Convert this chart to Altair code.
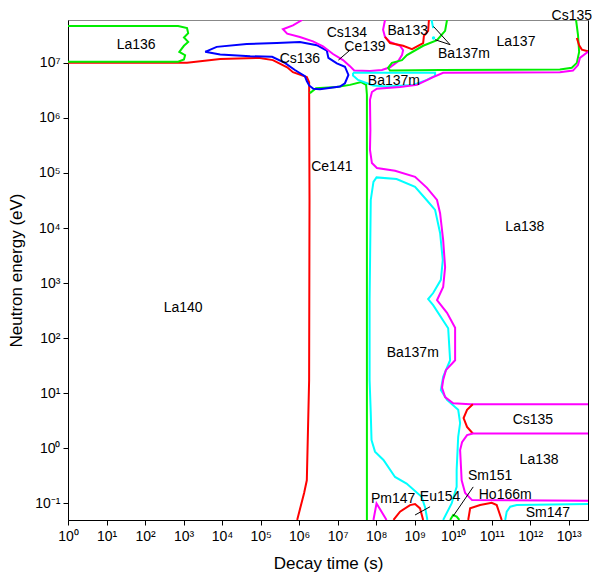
import altair as alt
import pandas as pd

# ---- boundary lines, coordinates are log10(decay time / s) and log10(neutron energy / eV)
la140_x = [0, 3.09, 3.95, 4.98, 5.32, 5.69, 5.84, 6.20, 6.26, 6.27, 6.26, 6.20, 6.13, 5.95]
la140_y = [7.00, 7.00, 7.07, 7.09, 7.05, 6.92, 6.83, 6.74, 6.65, 4.51, 1.24, -0.58, -0.81, -1.30]

la136_x = [0, 2.86, 3.09, 3.12, 3.01, 3.12, 3.01, 2.89, 3.04, 3.01, 2.86, 0]
la136_y = [7.67, 7.67, 7.63, 7.54, 7.46, 7.38, 7.31, 7.20, 7.14, 7.06, 7.02, 7.02]

cs136_x = [3.56, 3.86, 4.64, 5.42, 6.02, 6.46, 6.72, 6.76, 6.98, 7.19, 7.28, 7.19, 7.06, 6.54,
           6.37, 6.26, 6.20, 6.15, 5.89, 5.63, 5.30, 4.73, 3.95, 3.56]
cs136_y = [7.20, 7.29, 7.34, 7.36, 7.38, 7.32, 7.22, 7.09, 6.99, 6.93, 6.78, 6.63, 6.57, 6.52,
           6.53, 6.59, 6.67, 6.76, 6.87, 7.00, 7.11, 7.12, 7.15, 7.20]

cs134_x = [6.08, 5.84, 5.58, 5.69, 6.02, 6.36, 6.62, 6.88, 7.14, 7.32, 7.43, 7.84, 8.15, 8.36,
           8.57, 8.67, 8.70, 8.62, 8.36, 8.23, 8.18, 8.23]
cs134_y = [7.778, 7.68, 7.61, 7.53, 7.47, 7.39, 7.30, 7.16, 7.05, 6.94, 6.86, 6.85, 6.87, 6.92,
           7.03, 7.14, 7.23, 7.31, 7.38, 7.47, 7.60, 7.778]

ba133_x = [8.23, 8.36, 8.70, 8.93, 9.22, 9.24, 9.35, 9.37]
ba133_y = [7.47, 7.36, 7.31, 7.25, 7.36, 7.49, 7.58, 7.778]

la137_x = [9.84, 9.79, 9.58, 9.22, 8.80, 8.67, 8.41, 8.31, 8.36, 9.66, 12.77, 13.08, 13.21,
           13.27, 13.24, 13.19]
la137_y = [7.778, 7.58, 7.41, 7.31, 7.14, 7.05, 7.00, 6.91, 6.86, 6.87, 6.88, 6.91, 7.00,
           7.20, 7.51, 7.778]

la138_x = [13.5, 13.29, 13.24, 13.11, 12.77, 9.74, 9.48, 9.06, 8.62, 8.02, 7.89, 7.84, 7.85,
           7.84, 7.89, 8.02, 8.49, 9.01, 9.32, 9.58, 9.66, 9.74, 9.79, 9.74, 9.58, 9.84, 10.05,
           10.05, 9.81, 9.74, 9.71, 9.79, 10.00, 10.44, 13.5]
la138_y = [7.20, 7.09, 6.96, 6.86, 6.83, 6.82, 6.74, 6.60, 6.56, 6.53, 6.47, 6.33, 5.78,
           5.42, 5.18, 5.09, 5.04, 4.93, 4.73, 4.51, 4.27, 3.78, 3.29, 2.93, 2.69, 2.46, 2.19,
           1.60, 1.42, 1.24, 1.10, 0.93, 0.82, 0.80, 0.80]

la138b_x = [13.5, 10.51, 10.36, 10.23, 10.18, 10.22, 10.31, 10.49, 13.5]
la138b_y = [0.27, 0.27, 0.24, 0.11, -0.03, -0.58, -0.81, -0.94, -0.95]

cs135_x = [10.51, 10.36, 10.27, 10.36, 10.51]
cs135_y = [0.80, 0.70, 0.55, 0.39, 0.27]

cs135top_x = [13.21, 13.27, 13.34, 13.5]
cs135top_y = [7.45, 7.32, 7.24, 7.21]

ba137m_x = [9.33, 9.27, 9.18, 8.79, 8.49, 8.19, 7.97, 7.88, 7.86, 7.83, 7.83, 7.86, 7.93, 8.01,
            8.53, 9.01, 9.31, 9.53, 9.66, 9.73, 9.68, 9.48, 9.35, 9.48, 9.87, 9.92, 9.74, 9.68,
            9.84, 10.13, 10.18, 10.13, 10.09, 10.09, 9.96, 9.74]
ba137m_y = [-1.30, -1.07, -0.88, -0.64, -0.52, -0.21, -0.06, 0.15, 0.64, 1.24, 2.69, 4.51,
            4.84, 4.92, 4.89, 4.75, 4.51, 4.33, 3.91, 3.42, 3.06, 2.82, 2.71, 2.60, 2.18, 1.60,
            1.30, 1.06, 0.88, 0.70, 0.46, 0.21, -0.39, -0.70, -1.00, -1.30]

ba137m2_x = [7.40, 9.53, 9.53, 9.32, 8.96, 8.28, 7.92, 7.53, 7.40, 7.40]
ba137m2_y = [6.82, 6.82, 6.77, 6.69, 6.60, 6.57, 6.59, 6.69, 6.77, 6.82]

ba137m3_x = [9.44, 9.48]
ba137m3_y = [7.778, 7.63]

ce141_x = [6.28, 6.44, 6.98, 7.32, 7.61, 7.74, 7.76, 7.76]
ce141_y = [6.45, 6.54, 6.56, 6.60, 6.65, 6.60, 6.42, -1.30]

sm147_x = [11.35, 11.39, 11.48, 11.65, 13.5]
sm147_y = [-1.30, -1.15, -1.06, -1.03, -1.01]

ho166m_x = [10.39, 10.44, 10.70, 11.00, 11.13, 11.26]
ho166m_y = [-1.30, -1.09, -1.03, -0.99, -1.03, -1.30]

sm151_x = [9.92, 10.00, 10.09, 10.16]
sm151_y = [-1.30, -1.21, -1.24, -1.30]

eu154_x = [8.45, 8.62, 8.88, 9.01, 9.14, 9.22]
eu154_y = [-1.30, -1.15, -1.03, -1.01, -1.09, -1.30]

pm147_x = [7.93, 8.01, 8.27]
pm147_y = [-1.30, -1.00, -1.30]

RED, GREEN, BLUE, CYAN, MAGENTA = "#ff0000", "#00ee00", "#0000ff", "#00ffff", "#ff00ff"

lines = [
    ("la140", RED, la140_x, la140_y),
    ("la136", GREEN, la136_x, la136_y),
    ("ce141", GREEN, ce141_x, ce141_y),
    ("cs136", BLUE, cs136_x, cs136_y),
    ("cs134", MAGENTA, cs134_x, cs134_y),
    ("ba133", RED, ba133_x, ba133_y),
    ("ba137m2", CYAN, ba137m2_x, ba137m2_y),
    ("ba137m3", CYAN, ba137m3_x, ba137m3_y),
    ("la137", GREEN, la137_x, la137_y),
    ("cs135top", RED, cs135top_x, cs135top_y),
    ("ba137m", CYAN, ba137m_x, ba137m_y),
    ("la138", MAGENTA, la138_x, la138_y),
    ("cs135", RED, cs135_x, cs135_y),
    ("la138b", MAGENTA, la138b_x, la138b_y),
    ("sm147", CYAN, sm147_x, sm147_y),
    ("ho166m", RED, ho166m_x, ho166m_y),
    ("sm151", GREEN, sm151_x, sm151_y),
    ("eu154", RED, eu154_x, eu154_y),
    ("pm147", MAGENTA, pm147_x, pm147_y),
]

# leader lines
leaders = [
    ("ce139", [7.32, 7.02], [7.23, 7.05]),
    ("ba137a", [9.49, 9.92], [7.66, 7.33]),
    ("ba137b", [9.53, 9.92], [7.42, 7.33]),
    ("eu154", [9.40, 9.01], [-1.06, -1.21]),
    ("sm151", [10.52, 10.00], [-0.70, -1.23]),
]

dot_x = [9.49]
dot_y = [7.45]

label_text = ["La136", "Cs134", "Ba133", "Ce139", "Cs136", "Ba137m", "La137", "Cs135",
              "Ba137m", "Ce141", "La138", "La140", "Ba137m", "Cs135", "La138", "Sm151",
              "Pm147", "Eu154", "Ho166m", "Sm147"]
label_x = [1.77, 7.24, 8.82, 7.71, 6.02, 10.28, 11.63, 13.08, 8.46, 6.85, 11.86, 2.99, 8.95,
           12.07, 12.23, 10.96, 8.44, 9.66, 11.35, 12.46]
label_y = [7.32, 7.55, 7.58, 7.29, 7.07, 7.16, 7.37, 7.85, 6.67, 5.10, 4.02, 2.55, 1.73,
           0.51, -0.21, -0.51, -0.92, -0.88, -0.85, -1.18]

x_ticks = list(range(0, 14))
y_ticks = list(range(-1, 8))

rows = []
for name, col, xs_, ys_ in lines:
    for i, (a, b) in enumerate(zip(xs_, ys_)):
        rows.append({"seg": name, "col": col, "ord": i, "lx": a, "ly": b})
df_lines = pd.DataFrame(rows)

lrows = []
for name, xs_, ys_ in leaders:
    for i, (a, b) in enumerate(zip(xs_, ys_)):
        lrows.append({"seg": name, "ord": i, "lx": a, "ly": b})
df_lead = pd.DataFrame(lrows)

df_lab = pd.DataFrame({"t": label_text, "lx": label_x, "ly": label_y})
df_dot = pd.DataFrame({"lx": dot_x, "ly": dot_y})

SUP = {"0": "⁰", "1": "¹", "2": "²", "3": "³", "4": "⁴", "5": "⁵", "6": "⁶",
       "7": "⁷", "8": "⁸", "9": "⁹", "-": "⁻"}


def sup_label(n):
    return "10" + "".join(SUP[c] for c in str(n))


x_labels = [sup_label(v) for v in x_ticks]
y_labels = [sup_label(v) for v in y_ticks]
x_expr = "[" + ",".join("'" + s + "'" for s in x_labels) + "][round(datum.value)]"
y_expr = "[" + ",".join("'" + s + "'" for s in y_labels) + "][round(datum.value) + 1]"

FONT = "Liberation Sans"
common_axis = dict(grid=False, tickSize=5, labelFontSize=14, titleFontSize=17,
                   labelFont=FONT, titleFont=FONT, titleFontWeight="normal",
                   domainColor="black", tickColor="black", labelColor="black",
                   titleColor="black", labelFlush=False, labelOverlap=False)

xs = alt.Scale(domain=[0, 13.5], nice=False, zero=False)
ys = alt.Scale(domain=[-1.301, 7.778], nice=False, zero=False)

X = alt.X("lx:Q", scale=xs, title="Decay time (s)",
          axis=alt.Axis(values=x_ticks, labelExpr=x_expr, labelPadding=4, titlePadding=12,
                        **common_axis))
Y = alt.Y("ly:Q", scale=ys, title="Neutron energy (eV)",
          axis=alt.Axis(values=y_ticks, labelExpr=y_expr, labelPadding=3, titlePadding=9,
                        **common_axis))

line_layer = alt.Chart(df_lines).mark_line(strokeWidth=2, clip=True).encode(
    x=X, y=Y, detail="seg:N", order="ord:Q", color=alt.Color("col:N", scale=None)
)

lead_layer = alt.Chart(df_lead).mark_line(strokeWidth=1, color="black").encode(
    x=X, y=Y, detail="seg:N", order="ord:Q"
)

dot_layer = alt.Chart(df_dot).mark_circle(size=12, color=CYAN, opacity=1).encode(
    x=X, y=Y
)

text_layer = alt.Chart(df_lab).mark_text(font=FONT, fontSize=14, color="black",
                                         align="center", baseline="middle").encode(
    x=X, y=Y, text="t:N"
)

inner = alt.layer(line_layer, lead_layer, dot_layer, text_layer)

right_axis = alt.Chart(df_dot).mark_point(opacity=0).encode(
    x=X,
    y=alt.Y("ly:Q", scale=ys, axis=alt.Axis(orient="right", labels=False, ticks=False,
                                             title=None, grid=False, domainColor="black")),
)

chart = alt.layer(inner, right_axis).resolve_axis(
    y="independent"
).properties(
    width=520, height=500,
    autosize=alt.AutoSizeParams(type="none"),
    padding={"left": 60, "top": 12, "right": 6, "bottom": 54},
).configure_view(stroke="#888888", strokeWidth=1)

chart.save("out.html", embed_options={"renderer": "svg", "actions": False})
